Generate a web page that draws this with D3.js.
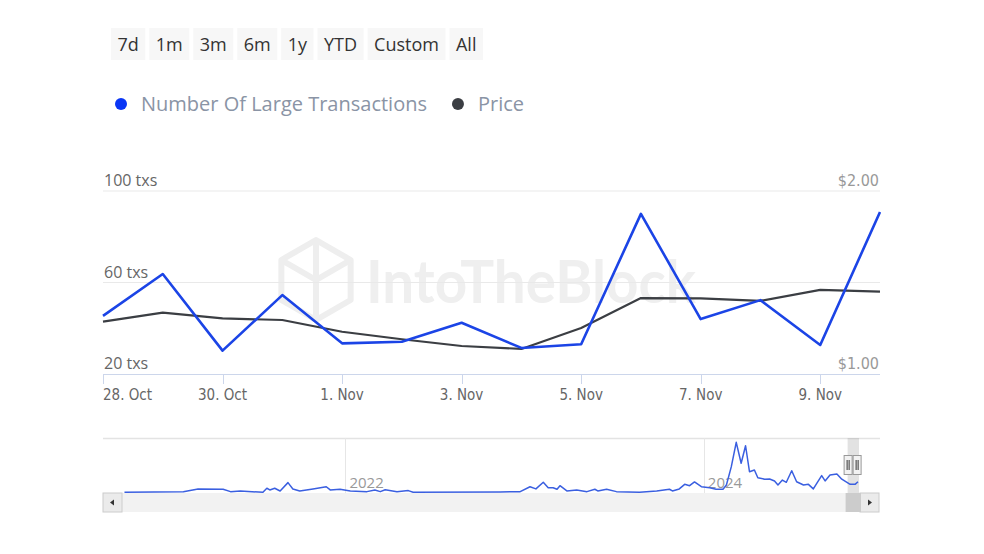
<!DOCTYPE html>
<html><head><meta charset="utf-8">
<script src="https://cdn.jsdelivr.net/npm/d3@7"></script>
<style>body{margin:0;background:#fff}svg{display:block}</style>
</head><body><svg id="c" width="984" height="554"></svg>
<script>
// ---------- data ----------
const dates = ["2024-10-28","2024-10-29","2024-10-30","2024-10-31","2024-11-01","2024-11-02","2024-11-03",
               "2024-11-04","2024-11-05","2024-11-06","2024-11-07","2024-11-08","2024-11-09","2024-11-10"];
const largeTx = [45.4,63.7,30.2,54.5,33.4,34.1,42.4,31.4,33.0,90.0,44.0,52.3,32.7,90.8];
const price   = [1.286,1.335,1.304,1.295,1.231,1.190,1.153,1.137,1.251,1.415,1.413,1.400,1.460,1.450];
const leftTicks = [20,60,100];
const rightTicks = [1,2];
const xTickDates = ["2024-10-28","2024-10-30","2024-11-01","2024-11-03","2024-11-05","2024-11-07","2024-11-09"];
const rangeButtons = ["7d","1m","3m","6m","1y","YTD","Custom","All"];
const seriesNames = ["Number Of Large Transactions","Price"];
const navDates = ["2020-10-08","2021-02-05","2021-03-07","2021-04-27","2021-05-12","2021-06-01","2021-07-17","2021-07-25",
  "2021-07-31","2021-08-10","2021-08-21","2021-09-06","2021-09-16","2021-09-30","2021-10-27","2021-11-23","2021-12-01",
  "2021-12-21","2022-01-11","2022-02-14","2022-03-02","2022-03-13","2022-03-23","2022-04-16","2022-05-09","2022-05-19",
  "2022-11-12","2022-12-23","2023-01-12","2023-01-24","2023-02-08","2023-02-18","2023-02-28","2023-03-08","2023-03-14",
  "2023-03-28","2023-04-17","2023-05-08","2023-05-24","2023-05-30","2023-06-17","2023-07-07","2023-08-23","2023-09-27",
  "2023-10-23","2023-10-29","2023-11-12","2023-11-23","2023-12-03","2023-12-13","2023-12-27","2024-01-13","2024-01-26",
  "2024-02-09","2024-02-16","2024-02-26","2024-03-07","2024-03-17","2024-03-26","2024-04-03","2024-04-13","2024-04-20",
  "2024-05-04","2024-05-14","2024-05-24","2024-05-31","2024-06-09","2024-06-17","2024-06-28","2024-07-08","2024-07-22",
  "2024-08-01","2024-08-11","2024-08-18","2024-08-28","2024-09-04","2024-09-14","2024-09-28","2024-10-08","2024-10-25",
  "2024-11-04","2024-11-10"];
const navValues = [4,8,24,22,8,12,4,28,18,28,12,61,24,12,24,37,18,22,12,8,18,8,19,8,14,4,
  6,8,37,24,63,31,31,22,43,12,18,8,22,12,22,8,4,12,22,12,24,51,43,65,37,31,22,22,47,155,298,175,278,125,135,90,
  81,82,71,47,76,63,131,66,47,51,24,57,102,71,106,112,81,51,51,66];
const navYearTicks = ["2022-01-01","2024-01-01"];

// ---------- setup ----------
const svg = d3.select("#c");
const parse = d3.utcParse("%Y-%m-%d");
const X0 = 103, X1 = 880, YB = 374, YT = 191;
const blue = "#1b44e6", dark = "#3b3e43";

const x = d3.scaleUtc().domain([parse(dates[0]), parse(dates[dates.length-1])]).range([X0, X1]);
const yL = d3.scaleLinear().domain([20,100]).range([YB, YT]);
const yR = d3.scaleLinear().domain([1,2]).range([YB, YT]);

// ---------- range buttons ----------
const btnG = svg.append("g");
let bx = 111;
rangeButtons.forEach(b => {
  const g = btnG.append("g");
  const r = g.append("rect").attr("y", 28).attr("height", 32).attr("fill", "#f7f7f7");
  const t = g.append("text").text(b).attr("y", 51).attr("font-family","'Open Sans', sans-serif")
    .attr("font-size", 18).attr("fill", "#333");
  const w = t.node().getComputedTextLength();
  r.attr("x", bx).attr("width", w + 13);
  t.attr("x", bx + 6.5);
  bx += w + 13 + 4;
});

// ---------- legend ----------
const lg = svg.append("g");
let lx = 121;
seriesNames.forEach((n, i) => {
  lg.append("circle").attr("cx", lx).attr("cy", 104).attr("r", 6).attr("fill", i === 0 ? "#0a36f5" : dark);
  const t = lg.append("text").text(n).attr("x", lx + 20).attr("y", 111)
    .attr("font-family","'Open Sans', sans-serif").attr("font-size", 20).attr("fill", "#8a94a5");
  lx += 20 + t.node().getComputedTextLength() + 31;
});

// ---------- watermark ----------
const wm = svg.append("g").attr("fill","none").attr("stroke","#eeeeee").attr("stroke-width",6).attr("stroke-linejoin","round");
const cx = 316, cy = 280, R = 40;
const hex = d3.range(6).map(k => [cx + R*Math.cos(Math.PI/6 + k*Math.PI/3), cy + R*Math.sin(Math.PI/6 + k*Math.PI/3)]);
wm.append("path").attr("d", "M" + hex.map(p => p.join(",")).join("L") + "Z");
wm.append("path").attr("d", `M${hex[3][0]},${hex[3][1]}L${cx},${cy}L${hex[5][0]},${hex[5][1]}M${cx},${cy}L${cx},${cy+R}M${hex[4][0]},${hex[4][1]}L${cx},${cy}L${hex[1][0]},${hex[1][1]}`);
svg.append("text").text("IntoTheBlock").attr("x", 366).attr("y", 303)
  .attr("font-family","Lato, sans-serif").attr("font-weight", 700).attr("font-size", 60)
  .attr("textLength", 330).attr("lengthAdjust","spacingAndGlyphs").attr("fill", "#efefef");

// ---------- grid ----------
svg.append("g").selectAll("line").data(leftTicks.filter(d => d !== 20)).join("line")
  .attr("x1", X0).attr("x2", X1).attr("y1", d => yL(d)).attr("y2", d => yL(d))
  .attr("stroke", "#e9e9e9").attr("stroke-width", 1);

svg.append("g").selectAll("text").data(leftTicks).join("text")
  .attr("x", 104).attr("y", d => yL(d) - 5).text(d => d + " txs")
  .attr("font-family","'Open Sans', sans-serif").attr("font-size", 16).attr("fill", "#666");
svg.append("g").selectAll("text").data(rightTicks).join("text")
  .attr("x", 879).attr("y", d => yR(d) - 5).attr("text-anchor","end").text(d => d3.format("$.2f")(d))
  .attr("font-family","'Liberation Sans Narrow','DejaVu Sans Condensed', sans-serif").attr("font-size", 16).attr("fill", "#999");

// x axis
const xTicks = xTickDates.map(parse);
const xa = svg.append("g");
xa.append("line").attr("x1", X0).attr("x2", X1).attr("y1", YB + 0.5).attr("y2", YB + 0.5).attr("stroke", "#ccd6eb");
xa.selectAll("line.t").data(xTicks).join("line").attr("class","t")
  .attr("x1", d => Math.round(x(d)) + 0.5).attr("x2", d => Math.round(x(d)) + 0.5).attr("y1", YB).attr("y2", YB + 10)
  .attr("stroke", "#ccd6eb");
const fmt = d3.utcFormat("%-d. %b");
xa.selectAll("text").data(xTicks).join("text")
  .attr("x", (d, i) => i === 0 ? X0 : x(d)).attr("y", 400)
  .attr("text-anchor", (d, i) => i === 0 ? "start" : "middle").text(fmt)
  .attr("font-family","'Liberation Sans Narrow','DejaVu Sans Condensed', sans-serif").attr("font-size", 15).attr("fill", "#666");

// ---------- series ----------
const pts = dates.map((d, i) => ({ d: parse(d), tx: largeTx[i], p: price[i] }));
svg.append("path").datum(pts).attr("fill","none").attr("stroke", dark).attr("stroke-width", 2.2)
  .attr("stroke-linejoin","round").attr("d", d3.line().x(d => x(d.d)).y(d => yR(d.p)));
svg.append("path").datum(pts).attr("fill","none").attr("stroke", blue).attr("stroke-width", 2.6)
  .attr("stroke-linejoin","round").attr("d", d3.line().x(d => x(d.d)).y(d => yL(d.tx)));

// ---------- navigator ----------
const NT = 438, NB = 493, SB = 512;
const nx = d3.scaleUtc().domain([parse("2020-10-05"), parse("2024-11-10")]).range([123, 858]);
const ny = d3.scaleLinear().domain([0, 300]).range([NB, 442]);
const nav = svg.append("g");
nav.append("line").attr("x1", X0).attr("x2", X1).attr("y1", NT + 0.5).attr("y2", NT + 0.5).attr("stroke", "#e3e3e3").attr("stroke-width", 1.5);
nav.selectAll("line.g").data(navYearTicks).join("line").attr("class","g")
  .attr("x1", d => Math.round(nx(parse(d))) + 0.5).attr("x2", d => Math.round(nx(parse(d))) + 0.5)
  .attr("y1", NT).attr("y2", NB).attr("stroke", "#e6e6e6");
nav.selectAll("text").data(navYearTicks).join("text")
  .attr("x", d => nx(parse(d)) + 4).attr("y", 488).text(d => d.slice(0,4))
  .attr("font-family","'Open Sans', sans-serif").attr("font-size", 15).attr("fill", "#999");
nav.append("rect").attr("x", X0).attr("y", NB).attr("width", X1 - X0 - 1).attr("height", SB - NB).attr("fill", "#f2f2f2");
nav.append("rect").attr("x", X0).attr("y", NB).attr("width", 19).attr("height", SB - NB).attr("fill", "#ebebeb").attr("stroke","#ccc");
nav.append("rect").attr("x", X1 - 20).attr("y", NB).attr("width", 19).attr("height", SB - NB).attr("fill", "#ebebeb").attr("stroke","#ccc");
nav.append("path").attr("d", `M${X0+7},${NB+9.5}L${X0+11},${NB+6.5}L${X0+11},${NB+12.5}Z`).attr("fill", "#333");
nav.append("path").attr("d", `M${X1-8},${NB+9.5}L${X1-12},${NB+6.5}L${X1-12},${NB+12.5}Z`).attr("fill", "#333");
const selX0 = nx(parse("2024-10-28")) - 4, selX1 = nx(parse("2024-11-10")) + 1;
nav.append("rect").attr("x", selX0).attr("y", NT).attr("width", selX1 - selX0).attr("height", NB - NT).attr("fill", "rgba(140,140,140,0.25)");
nav.append("rect").attr("x", selX0 - 2).attr("y", NB).attr("width", selX1 - selX0 + 4).attr("height", SB - NB).attr("fill", "#cccccc");
nav.append("path").datum(navDates.map((d, i) => [parse(d), navValues[i]])).attr("fill","none")
  .attr("stroke", "#3a5fe0").attr("stroke-width", 1.5).attr("stroke-linejoin","round")
  .attr("d", d3.line().x(d => nx(d[0])).y(d => ny(d[1])));
[selX0 - 4, selX0 + 5].forEach(hx => {
  const h = nav.append("g");
  h.append("rect").attr("x", hx + 0.5).attr("y", 455.5).attr("width", 8).attr("height", 19).attr("fill", "#f2f2f2").attr("stroke", "#999");
  h.append("line").attr("x1", hx + 3.5).attr("x2", hx + 3.5).attr("y1", 460).attr("y2", 470).attr("stroke", "#333");
  h.append("line").attr("x1", hx + 5.5).attr("x2", hx + 5.5).attr("y1", 460).attr("y2", 470).attr("stroke", "#333");
});
</script></body></html>
